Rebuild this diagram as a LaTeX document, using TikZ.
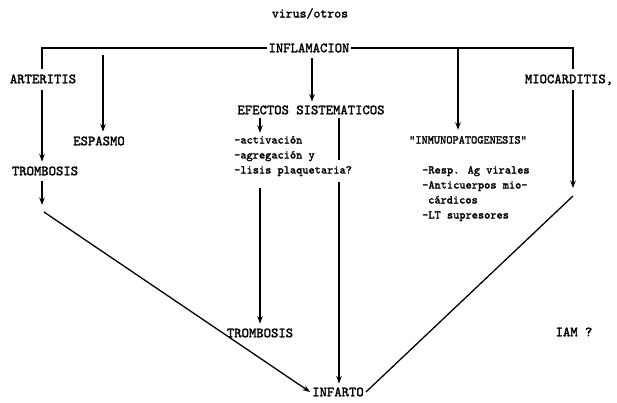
\documentclass[tikz,border=0pt]{standalone}
\usepackage{fontspec}
\usetikzlibrary{arrows.meta}
\newfontfamily\tw{lmmono10-regular}[Extension=.otf, FakeBold=1.8]
\begin{document}
\begin{tikzpicture}[x=1pt,y=-1pt,
  lc/.style={font=\tw\fontsize{11.8}{13}\selectfont, inner sep=1pt, text height=7.5pt, text depth=2.5pt},
  uc/.style={font=\tw\fontsize{14}{16}\selectfont, inner sep=1pt, text height=8.5pt, text depth=0pt},
  ln/.style={line width=1.3pt, black},
  arr/.style={ln, -{Stealth[length=7.5pt,width=5.5pt]}}]
\fill[white] (0,0) rectangle (617,402);
\useasboundingbox (0,0) rectangle (617,402);
% nodes
\node[lc, font=\tw\fontsize{13.2}{15}\selectfont] (virus) at (310,15) {virus/otros};
\node[uc] (infl) at (309,48) {INFLAMACION};
\node[uc] (art) at (43,79) {ARTERITIS};
\node[uc] (tromb1) at (45,171) {TROMBOSIS};
\node[uc] (esp) at (99,141) {ESPASMO};
\node[uc] (efe) at (311,110) {EFECTOS SISTEMATICOS};
\node[lc, anchor=west] (l1) at (233,141) {-activación};
\node[lc, anchor=west] (l2) at (233,156) {-agregación y};
\node[lc, anchor=west] (l3) at (233,171) {-lisis plaquetaria?};
\node[uc] (tromb2) at (260,333) {TROMBOSIS};
\node[uc] (infarto) at (338,392) {INFARTO};
\node[lc] (inmuno) at (468,141) {"INMUNOPATOGENESIS"};
\node[lc, anchor=west] (r1) at (421,171) {-Resp. Ag virales};
\node[lc, anchor=west] (r2) at (421,186) {-Anticuerpos mio-};
\node[lc, anchor=west] (r3) at (427,201) {cárdicos};
\node[lc, anchor=west] (r4) at (421,216) {-LT supresores};
\node[uc] (mio) at (569,79) {MIOCARDITIS,};
\node[uc] (iam) at (574,332) {IAM ?};
% coordinates
\coordinate (cl) at (42,48);
\coordinate (cr) at (573,48);
\coordinate (e0) at (103,55);
\coordinate (i0) at (458,48);
\coordinate (s0) at (260,118);
\coordinate (g1) at (339,160);
\coordinate (g2) at (339,182);
\coordinate (t0) at (260,188);
\coordinate (ta) at (42,205);
\coordinate (da) at (44,212);
\coordinate (mb) at (573,188);
\coordinate (db) at (573,196);
% connectors
\draw[ln] (infl.west) -- (cl) -- ([yshift=5pt]cl |- art.north);
\draw[ln] (infl.east) -- (cr) -- ([yshift=5pt]cr |- mio.north);
\draw[arr] ([yshift=-5pt]infl.south -| 312,0) -- ([yshift=3pt]efe.north -| 312,0);
\draw[arr] (e0) -- ([yshift=4pt]e0 |- esp.north);
\draw[arr] (i0) -- ([yshift=5pt]i0 |- inmuno.north);
\draw[arr] ([yshift=-6pt]art.south -| cl) -- ([yshift=4pt]tromb1.north -| cl);
\draw[arr] ([yshift=-5pt]tromb1.south -| cl) -- (ta);
\draw[arr] (da) -- ([xshift=-1pt]infarto.west);
\draw[arr] ([yshift=-3pt]efe.south -| s0) -- ([yshift=2pt]l1.north -| s0);
\draw[ln] ([yshift=-3pt]efe.south -| g1) -- (g1);
\draw[arr] (g2) -- ([yshift=3pt]g2 |- infarto.north);
\draw[arr] (t0) -- ([yshift=4pt]t0 |- tromb2.north);
\draw[arr] ([yshift=-6pt]mio.south -| cr) -- (mb);
\draw[ln] (db) -- ([xshift=1pt]infarto.east);
\end{tikzpicture}
\end{document}
